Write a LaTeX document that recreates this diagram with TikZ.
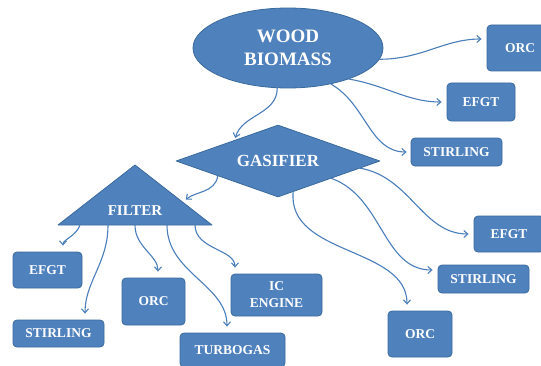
\documentclass[tikz,border=0pt]{standalone}
\usepackage{fontspec}
\setmainfont{Liberation Serif}
\usetikzlibrary{shapes.geometric,arrows.meta,calc}
\definecolor{boxblue}{HTML}{4F81BD}
\definecolor{edgeblue}{HTML}{3A6A9C}
\definecolor{arrblue}{HTML}{4A7EBB}
\begin{document}
\begin{tikzpicture}[x=1pt,y=1pt, line join=round, line cap=round,
	blk/.style={fill=boxblue, draw=edgeblue, line width=0.8pt, text=white, inner sep=0pt, align=center},
	unit/.style={blk, rectangle, rounded corners=4pt, font=\fontsize{13.5}{17}\selectfont\bfseries},
	conn/.style={draw=arrblue, line width=1.1pt, -{Straight Barb[length=4pt,width=7pt]}}]
	\useasboundingbox (0,0) rectangle (541,365);
	%nguồn và lò khí hóa
	\node[blk, ellipse, minimum width=190pt, minimum height=80pt, font=\fontsize{19}{23}\selectfont\bfseries] (wb) at (288,317) {WOOD\\BIOMASS};
	\node[blk, diamond, aspect=2.8, minimum width=204pt, minimum height=72pt, font=\fontsize{17}{20}\selectfont\bfseries] (gas) at (278,204) {GASIFIER};
	%bộ lọc (tam giác)
	\path 
	(58,140) coordinate (fL)
	(212,140) coordinate (fR)
	(135,200) coordinate (fA)
	;
	\filldraw[fill=boxblue, draw=edgeblue, line width=0.8pt] (fL)--(fA)--(fR)--cycle;
	\node[text=white, inner sep=0pt, font=\fontsize{15}{18}\selectfont\bfseries] (filt) at (135,154) {FILTER};
	\foreach \n/\x in {1/80, 2/108, 3/135, 4/167, 5/195}
	\coordinate (f\n) at (\x,140);
	%các khối đầu ra
	\node[unit, minimum width=66pt, minimum height=46pt] (orc1) at (520,317) {ORC};
	\node[unit, minimum width=68pt, minimum height=38pt] (efgt1) at (481,263) {EFGT};
	\node[unit, minimum width=91pt, minimum height=28pt] (st1) at (456.5,213) {STIRLING};
	\node[unit, minimum width=70pt, minimum height=36pt] (efgt3) at (509,131) {EFGT};
	\node[unit, minimum width=91pt, minimum height=28pt] (st3) at (483.5,86) {STIRLING};
	\node[unit, minimum width=64pt, minimum height=46pt] (orc3) at (420,31) {ORC};
	\node[unit, minimum width=69pt, minimum height=36pt] (efgt2) at (47.5,95) {EFGT};
	\node[unit, minimum width=91pt, minimum height=27pt] (st2) at (58.5,31.5) {STIRLING};
	\node[unit, minimum width=63pt, minimum height=47pt] (orc2) at (153.5,63.5) {ORC};
	\node[unit, minimum width=91pt, minimum height=42pt] (ic) at (276.5,70) {IC\\ENGINE};
	\node[unit, minimum width=105pt, minimum height=34pt] (tb) at (232.5,15) {TURBOGAS};
	%mũi tên
	\draw[conn, shorten >=5pt] (wb.-7) to[out=0,in=180] ([yshift=9pt]orc1.west);
	\draw[conn, shorten >=5pt] (wb.-27) to[out=-10,in=180] (efgt1.west);
	\draw[conn, shorten >=4pt] (wb.-40) to[out=-30,in=180] (st1.west);
	\draw[conn, shorten >=2pt] (wb.-105) to[out=-90,in=75] (gas.154);
	\draw[conn, shorten >=4pt] (gas.-166) to[out=-100,in=40] ($(fR)!0.38!(fA)$);
	\draw[conn, shorten >=5pt] (gas.-5) to[out=-10,in=180] (efgt3.west);
	\draw[conn, shorten >=5pt] (gas.-18) to[out=-20,in=180] ([yshift=9pt]st3.west);
	\draw[conn, shorten >=6pt] (gas.-64) to[out=-95,in=90] ([xshift=-13pt]orc3.north);
	\foreach \s/\t/\d/\o in {f1/efgt2/15.5/-110, f2/st2/26.5/-90, f3/orc2/4.5/-90, f4/tb/-5.5/-90, f5/ic/-41.5/-90}
	\draw[conn, shorten >=6pt] (\s) to[out=\o,in=90] ([xshift=\d pt]\t.north);
\end{tikzpicture}
\end{document}
